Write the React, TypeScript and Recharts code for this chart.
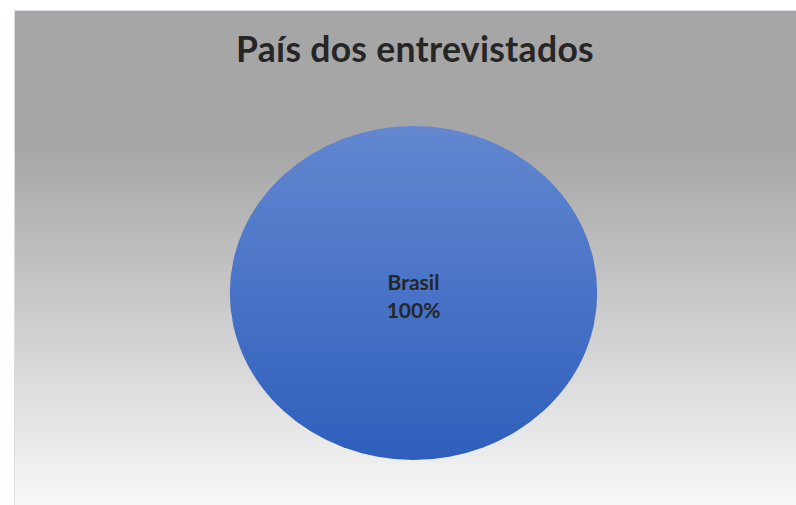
import React from "react";
import { PieChart, Pie } from "recharts";

const countries = ["Brasil"];
const shares = [100];

const data = countries.map((name, i) => ({ name, value: shares[i] }));

const STRETCH = 1.1; // the original pie is a slightly wide ellipse

function EllipseSlice(props: any) {
  const { cx, cy, outerRadius, startAngle, endAngle } = props;
  const rx = outerRadius * STRETCH;
  const ry = outerRadius;
  const defs = (
    <defs>
      <linearGradient id="pieFill" x1="0" y1="0" x2="0" y2="1">
        <stop offset="0%" stopColor="#6387d0" />
        <stop offset="100%" stopColor="#2e5fbc" />
      </linearGradient>
    </defs>
  );
  if (Math.abs(endAngle - startAngle) >= 359.99) {
    return (
      <g>
        {defs}
        <ellipse cx={cx} cy={cy} rx={rx} ry={ry} fill="url(#pieFill)" />
      </g>
    );
  }
  const rad = Math.PI / 180;
  const x1 = cx + rx * Math.cos(-startAngle * rad);
  const y1 = cy + ry * Math.sin(-startAngle * rad);
  const x2 = cx + rx * Math.cos(-endAngle * rad);
  const y2 = cy + ry * Math.sin(-endAngle * rad);
  const large = Math.abs(endAngle - startAngle) > 180 ? 1 : 0;
  return (
    <g>
      {defs}
      <path
        d={`M${cx},${cy} L${x1},${y1} A${rx},${ry} 0 ${large} 0 ${x2},${y2} Z`}
        fill="url(#pieFill)"
      />
    </g>
  );
}

function renderLabel(props: any) {
  const { cx, cy, name, percent } = props;
  return (
    <text
      x={cx}
      y={cy}
      textAnchor="middle"
      fill="#262626"
      fontFamily="Lato, 'Open Sans', sans-serif"
      fontWeight={700}
      fontSize={21}
    >
      <tspan x={cx} dy={-3}>{name}</tspan>
      <tspan x={cx} dy={28}>{`${Math.round(percent * 100)}%`}</tspan>
    </text>
  );
}

export default function App() {
  return (
    <div
      style={{
        position: "fixed",
        top: 0,
        left: 0,
        width: 796,
        height: 505,
        overflow: "hidden",
        background: "#fff",
      }}
    >
      <div
        style={{
          position: "absolute",
          left: 14,
          top: 10,
          width: 800,
          height: 500,
          border: "1px solid #d9dde2",
          background:
            "linear-gradient(to bottom, #a6a6a6 0%, #a6a6a6 27%, #c9c9c9 58%, #f9f9f9 100%)",
          fontFamily: "Lato, 'Open Sans', sans-serif",
        }}
      >
        <div
          style={{
            position: "absolute",
            top: 16,
            left: 0,
            width: 800,
            textAlign: "center",
            fontSize: 35.5,
            fontWeight: 700,
            color: "#262626",
            letterSpacing: 0.3,
          }}
        >
          País dos entrevistados
        </div>
        <PieChart width={800} height={495} style={{ position: "absolute", top: 0, left: 0 }}>
          <Pie
            data={data}
            dataKey="value"
            nameKey="name"
            cx={393.5}
            cy={277}
            outerRadius={167}
            startAngle={90}
            endAngle={-270}
            stroke="none"
            shape={EllipseSlice}
            label={renderLabel}
            labelLine={false}
            isAnimationActive={false}
          />
        </PieChart>
      </div>
    </div>
  );
}
